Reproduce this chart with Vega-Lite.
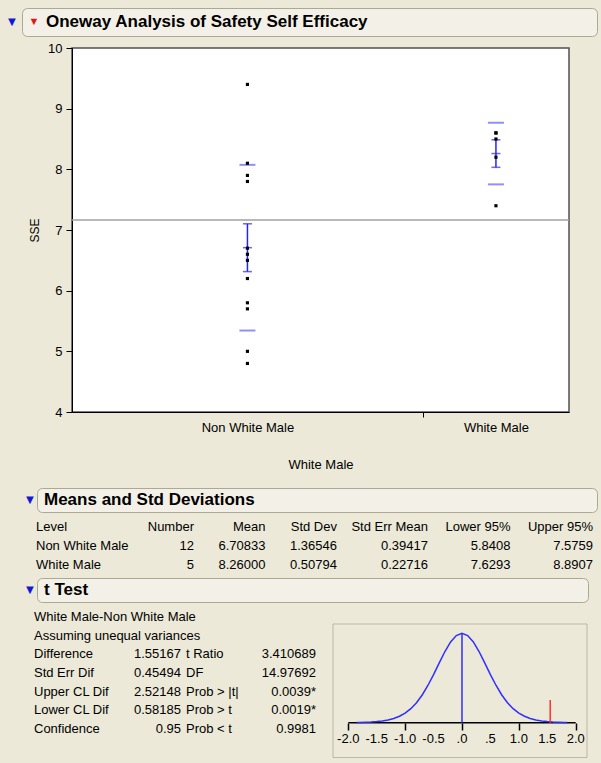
{
  "$schema": "https://vega.github.io/schema/vega-lite/v6.json",
  "background": "#ECE9D8",
  "padding": 0,
  "autosize": {"type": "pad"},
  "spacing": 0,
  "bounds": "full",
  "config": {
    "view": {"stroke": null},
    "font": "Liberation Sans",
    "text": {"font": "Liberation Sans", "fontSize": 13, "color": "#000000"},
    "axis": {"labelFont": "Liberation Sans", "titleFont": "Liberation Sans", "labelColor": "#000000", "titleColor": "#000000", "grid": false}
  },
  "datasets": {
    "blank": [{"s": 0}],
    "obs": [
      {"group": "Non White Male", "sse": 9.4}, {"group": "Non White Male", "sse": 8.1}, {"group": "Non White Male", "sse": 7.9},
      {"group": "Non White Male", "sse": 7.8}, {"group": "Non White Male", "sse": 6.7}, {"group": "Non White Male", "sse": 6.6},
      {"group": "Non White Male", "sse": 6.5}, {"group": "Non White Male", "sse": 6.2}, {"group": "Non White Male", "sse": 5.8},
      {"group": "Non White Male", "sse": 5.7}, {"group": "Non White Male", "sse": 5.0}, {"group": "Non White Male", "sse": 4.8},
      {"group": "White Male", "sse": 8.6}, {"group": "White Male", "sse": 8.6}, {"group": "White Male", "sse": 8.5},
      {"group": "White Male", "sse": 8.2}, {"group": "White Male", "sse": 7.4}
    ],
    "grp": [
      {"group": "Non White Male", "n": 12, "mean": 6.70833, "sd": 1.36546, "se": 0.39417, "mean_minus_sd": 5.34287, "mean_plus_sd": 8.07379, "mean_minus_se": 6.31416, "mean_plus_se": 7.1025},
      {"group": "White Male", "n": 5, "mean": 8.26, "sd": 0.50794, "se": 0.22716, "mean_minus_sd": 7.75206, "mean_plus_sd": 8.76794, "mean_minus_se": 8.03284, "mean_plus_se": 8.48716}
    ],
    "grand": [{"grand_mean": 7.16471}],
    "tbl": [
      {"row": 0, "col": "Level", "txt": "Level"}, {"row": 0, "col": "Number", "txt": "Number"}, {"row": 0, "col": "Mean", "txt": "Mean"},
      {"row": 0, "col": "Std Dev", "txt": "Std Dev"}, {"row": 0, "col": "Std Err Mean", "txt": "Std Err Mean"},
      {"row": 0, "col": "Lower 95%", "txt": "Lower 95%"}, {"row": 0, "col": "Upper 95%", "txt": "Upper 95%"},
      {"row": 1, "col": "Level", "txt": "Non White Male"}, {"row": 1, "col": "Number", "txt": "12"}, {"row": 1, "col": "Mean", "txt": "6.70833"},
      {"row": 1, "col": "Std Dev", "txt": "1.36546"}, {"row": 1, "col": "Std Err Mean", "txt": "0.39417"},
      {"row": 1, "col": "Lower 95%", "txt": "5.8408"}, {"row": 1, "col": "Upper 95%", "txt": "7.5759"},
      {"row": 2, "col": "Level", "txt": "White Male"}, {"row": 2, "col": "Number", "txt": "5"}, {"row": 2, "col": "Mean", "txt": "8.26000"},
      {"row": 2, "col": "Std Dev", "txt": "0.50794"}, {"row": 2, "col": "Std Err Mean", "txt": "0.22716"},
      {"row": 2, "col": "Lower 95%", "txt": "7.6293"}, {"row": 2, "col": "Upper 95%", "txt": "8.8907"}
    ],
    "tt": [
      {"g": 1, "row": 0, "part": "label", "txt": "White Male-Non White Male"},
      {"g": 1, "row": 1, "part": "label", "txt": "Assuming unequal variances"},
      {"g": 1, "row": 2, "part": "label", "txt": "Difference"}, {"g": 1, "row": 2, "part": "value", "txt": "1.55167"},
      {"g": 1, "row": 3, "part": "label", "txt": "Std Err Dif"}, {"g": 1, "row": 3, "part": "value", "txt": "0.45494"},
      {"g": 1, "row": 4, "part": "label", "txt": "Upper CL Dif"}, {"g": 1, "row": 4, "part": "value", "txt": "2.52148"},
      {"g": 1, "row": 5, "part": "label", "txt": "Lower CL Dif"}, {"g": 1, "row": 5, "part": "value", "txt": "0.58185"},
      {"g": 1, "row": 6, "part": "label", "txt": "Confidence"}, {"g": 1, "row": 6, "part": "value", "txt": "0.95"},
      {"g": 2, "row": 2, "part": "label", "txt": "t Ratio"}, {"g": 2, "row": 2, "part": "value", "txt": "3.410689"},
      {"g": 2, "row": 3, "part": "label", "txt": "DF"}, {"g": 2, "row": 3, "part": "value", "txt": "14.97692"},
      {"g": 2, "row": 4, "part": "label", "txt": "Prob > |t|"}, {"g": 2, "row": 4, "part": "value", "txt": "0.0039*"},
      {"g": 2, "row": 5, "part": "label", "txt": "Prob > t"}, {"g": 2, "row": 5, "part": "value", "txt": "0.0019*"},
      {"g": 2, "row": 6, "part": "label", "txt": "Prob < t"}, {"g": 2, "row": 6, "part": "value", "txt": "0.9981"}
    ],
    "tlab": [
      {"v": -2, "lab": "-2.0"}, {"v": -1.5, "lab": "-1.5"}, {"v": -1, "lab": "-1.0"}, {"v": -0.5, "lab": "-0.5"},
      {"v": 0, "lab": ".0"}, {"v": 0.5, "lab": ".5"}, {"v": 1, "lab": "1.0"}, {"v": 1.5, "lab": "1.5"}, {"v": 2, "lab": "2.0"}
    ],
    "dens": [
      {"t": -1.85, "d": 0.002}, {"t": -1.8, "d": 0.003}, {"t": -1.7, "d": 0.005}, {"t": -1.6, "d": 0.008},
      {"t": -1.5, "d": 0.013}, {"t": -1.4, "d": 0.02}, {"t": -1.3, "d": 0.031}, {"t": -1.2, "d": 0.047},
      {"t": -1.1, "d": 0.072}, {"t": -1.0, "d": 0.107}, {"t": -0.9, "d": 0.157}, {"t": -0.8, "d": 0.223},
      {"t": -0.7, "d": 0.31}, {"t": -0.6, "d": 0.416}, {"t": -0.5, "d": 0.538}, {"t": -0.4, "d": 0.669},
      {"t": -0.3, "d": 0.796}, {"t": -0.2, "d": 0.903}, {"t": -0.1, "d": 0.975}, {"t": 0.0, "d": 1.0},
      {"t": 0.1, "d": 0.975}, {"t": 0.2, "d": 0.903}, {"t": 0.3, "d": 0.796}, {"t": 0.4, "d": 0.669},
      {"t": 0.5, "d": 0.538}, {"t": 0.6, "d": 0.416}, {"t": 0.7, "d": 0.31}, {"t": 0.8, "d": 0.223},
      {"t": 0.9, "d": 0.157}, {"t": 1.0, "d": 0.107}, {"t": 1.1, "d": 0.072}, {"t": 1.2, "d": 0.047},
      {"t": 1.3, "d": 0.031}, {"t": 1.4, "d": 0.02}, {"t": 1.5, "d": 0.013}, {"t": 1.6, "d": 0.008},
      {"t": 1.7, "d": 0.005}, {"t": 1.8, "d": 0.003}, {"t": 1.85, "d": 0.002}
    ]
  },
  "vconcat": [
    {"width": 601, "height": 7, "data": {"name": "blank"}, "mark": {"type": "point", "opacity": 0}, "encoding": {}},
    {
      "hconcat": [
        {"width": 22, "height": 33, "data": {"name": "blank"}, "mark": {"type": "point", "opacity": 0}, "encoding": {}},
        {
          "width": 575, "height": 28,
          "view": {"fill": "#F3F1E7", "stroke": "#ABA893", "cornerRadius": 5, "strokeWidth": 1},
          "data": {"values": [{"k": "h", "title": "Oneway Analysis of Safety Self Efficacy"}]},
          "encoding": {"x": {"field": "k", "type": "nominal", "scale": {"type": "point", "padding": 0, "align": 0}, "axis": null}},
          "layer": [
            {"mark": {"type": "text", "text": "▼", "color": "#1515d5", "fontSize": 13, "dx": -10}},
            {"mark": {"type": "text", "text": "▼", "color": "#e01818", "fontSize": 11, "dx": 12}},
            {"mark": {"type": "text", "align": "left", "dx": 24, "fontSize": 17, "fontWeight": "bold"}, "encoding": {"text": {"field": "title"}}}
          ]
        }
      ],
      "spacing": 0, "bounds": "flush"
    },
    {
      "hconcat": [
        {"width": 72, "height": 439, "data": {"name": "blank"}, "mark": {"type": "point", "opacity": 0}, "encoding": {}},
        {
          "width": 497, "height": 364,
          "view": {"fill": "#ffffff", "stroke": "#505050", "strokeWidth": 1.5},
          "layer": [
            {
              "data": {"name": "grand"},
              "mark": {"type": "rule", "color": "#a0a0a0", "strokeWidth": 1.5},
              "encoding": {
                "y": {"field": "grand_mean", "type": "quantitative", "title": "SSE",
                  "scale": {"domain": [4, 10], "nice": false, "zero": false},
                  "axis": {"values": [4, 5, 6, 7, 8, 9, 10], "format": "d", "titleFontSize": 12, "titleFontWeight": "normal", "titlePadding": 6,
                    "labelFontSize": 13, "tickSize": 6, "labelPadding": 4, "domainColor": "#000000", "tickColor": "#000000"}}
              }
            },
            {
              "data": {"name": "grp"},
              "mark": {"type": "tick", "orient": "horizontal", "size": 16, "thickness": 2, "color": "#5f5fff"},
              "encoding": {
                "x": {"field": "group", "type": "nominal", "title": "White Male",
                  "scale": {"type": "point", "domain": ["Non White Male", "White Male"], "padding": 0.5, "align": 0.706},
                  "axis": {"labelAngle": 0, "labelFontSize": 13, "titleFontSize": 13, "titleFontWeight": "normal", "titlePadding": 24,
                    "ticks": true, "tickSize": 5, "tickColor": "#000000", "tickOffset": -73.1, "labelOffset": 73.1,
                    "tickOpacity": {"condition": {"test": "datum.value === 'Non White Male'", "value": 0}, "value": 1},
                    "labelPadding": 4, "domainColor": "#000000"}},
                "y": {"field": "mean_plus_sd", "type": "quantitative", "title": "SSE", "scale": {"domain": [4, 10], "nice": false, "zero": false}}
              }
            },
            {
              "data": {"name": "grp"},
              "mark": {"type": "tick", "orient": "horizontal", "size": 16, "thickness": 2, "color": "#5f5fff"},
              "encoding": {
                "x": {"field": "group", "type": "nominal", "title": "White Male", "scale": {"type": "point", "domain": ["Non White Male", "White Male"], "padding": 0.5, "align": 0.706}},
                "y": {"field": "mean_minus_sd", "type": "quantitative", "title": "SSE", "scale": {"domain": [4, 10], "nice": false, "zero": false}}
              }
            },
            {
              "data": {"name": "grp"},
              "mark": {"type": "rule", "color": "#2323ff", "strokeWidth": 1.5},
              "encoding": {
                "x": {"field": "group", "type": "nominal", "title": "White Male", "scale": {"type": "point", "domain": ["Non White Male", "White Male"], "padding": 0.5, "align": 0.706}},
                "y": {"field": "mean_minus_se", "type": "quantitative", "title": "SSE", "scale": {"domain": [4, 10], "nice": false, "zero": false}},
                "y2": {"field": "mean_plus_se"}
              }
            },
            {
              "data": {"name": "grp"},
              "mark": {"type": "tick", "orient": "horizontal", "size": 9, "thickness": 1.5, "color": "#2323ff"},
              "encoding": {
                "x": {"field": "group", "type": "nominal", "title": "White Male", "scale": {"type": "point", "domain": ["Non White Male", "White Male"], "padding": 0.5, "align": 0.706}},
                "y": {"field": "mean_minus_se", "type": "quantitative", "title": "SSE", "scale": {"domain": [4, 10], "nice": false, "zero": false}}
              }
            },
            {
              "data": {"name": "grp"},
              "mark": {"type": "tick", "orient": "horizontal", "size": 9, "thickness": 1.5, "color": "#2323ff"},
              "encoding": {
                "x": {"field": "group", "type": "nominal", "title": "White Male", "scale": {"type": "point", "domain": ["Non White Male", "White Male"], "padding": 0.5, "align": 0.706}},
                "y": {"field": "mean_plus_se", "type": "quantitative", "title": "SSE", "scale": {"domain": [4, 10], "nice": false, "zero": false}}
              }
            },
            {
              "data": {"name": "grp"},
              "mark": {"type": "tick", "orient": "horizontal", "size": 9, "thickness": 1.5, "color": "#2323ff"},
              "encoding": {
                "x": {"field": "group", "type": "nominal", "title": "White Male", "scale": {"type": "point", "domain": ["Non White Male", "White Male"], "padding": 0.5, "align": 0.706}},
                "y": {"field": "mean", "type": "quantitative", "title": "SSE", "scale": {"domain": [4, 10], "nice": false, "zero": false}}
              }
            },
            {
              "data": {"name": "obs"},
              "mark": {"type": "point", "shape": "square", "filled": true, "color": "#000000", "size": 10, "opacity": 1},
              "encoding": {
                "x": {"field": "group", "type": "nominal", "title": "White Male", "scale": {"type": "point", "domain": ["Non White Male", "White Male"], "padding": 0.5, "align": 0.706}},
                "y": {"field": "sse", "type": "quantitative", "title": "SSE", "scale": {"domain": [4, 10], "nice": false, "zero": false}}
              }
            }
          ]
        }
      ],
      "spacing": 0, "bounds": "flush"
    },
    {
      "hconcat": [
        {"width": 37, "height": 29, "data": {"name": "blank"}, "mark": {"type": "point", "opacity": 0}, "encoding": {}},
        {
          "width": 560, "height": 24,
          "view": {"fill": "#F3F1E7", "stroke": "#ABA893", "cornerRadius": 5, "strokeWidth": 1},
          "data": {"values": [{"k": "h", "title": "Means and Std Deviations"}]},
          "encoding": {"x": {"field": "k", "type": "nominal", "scale": {"type": "point", "padding": 0, "align": 0}, "axis": null}},
          "layer": [
            {"mark": {"type": "text", "text": "▼", "color": "#1515d5", "fontSize": 13, "dx": -7}},
            {"mark": {"type": "text", "align": "left", "dx": 7, "fontSize": 17, "fontWeight": "bold"}, "encoding": {"text": {"field": "title"}}}
          ]
        }
      ],
      "spacing": 0, "bounds": "flush"
    },
    {
      "hconcat": [
        {"width": 36, "height": 60, "data": {"name": "blank"}, "mark": {"type": "point", "opacity": 0}, "encoding": {}},
        {
          "width": 158, "height": 57,
          "data": {"name": "tbl"},
          "transform": [{"filter": {"field": "col", "oneOf": ["Level"]}}],
          "mark": {"type": "text", "align": "left", "fontSize": 13},
          "encoding": {
            "x": {"field": "col", "type": "nominal", "scale": {"type": "point", "padding": 0, "align": 0}, "axis": null},
            "y": {"field": "row", "type": "ordinal", "scale": {"type": "point", "padding": 0.5, "domain": [0, 1, 2]}, "axis": null},
            "text": {"field": "txt"}
          }
        },
        {
          "width": 143, "height": 57,
          "data": {"name": "tbl"},
          "transform": [{"filter": {"field": "col", "oneOf": ["Number", "Mean", "Std Dev"]}}],
          "mark": {"type": "text", "align": "right", "fontSize": 13},
          "encoding": {
            "x": {"field": "col", "type": "nominal", "scale": {"type": "point", "padding": 0, "domain": ["Number", "Mean", "Std Dev"]}, "axis": null},
            "y": {"field": "row", "type": "ordinal", "scale": {"type": "point", "padding": 0.5, "domain": [0, 1, 2]}, "axis": null},
            "text": {"field": "txt"}
          }
        },
        {"width": 91, "height": 57, "data": {"name": "blank"}, "mark": {"type": "point", "opacity": 0}, "encoding": {}},
        {
          "width": 165, "height": 57,
          "data": {"name": "tbl"},
          "transform": [{"filter": {"field": "col", "oneOf": ["Std Err Mean", "Lower 95%", "Upper 95%"]}}],
          "mark": {"type": "text", "align": "right", "fontSize": 13},
          "encoding": {
            "x": {"field": "col", "type": "nominal", "scale": {"type": "point", "padding": 0, "domain": ["Std Err Mean", "Lower 95%", "Upper 95%"]}, "axis": null},
            "y": {"field": "row", "type": "ordinal", "scale": {"type": "point", "padding": 0.5, "domain": [0, 1, 2]}, "axis": null},
            "text": {"field": "txt"}
          }
        }
      ],
      "spacing": 0, "bounds": "flush"
    },
    {
      "hconcat": [
        {"width": 37, "height": 30, "data": {"name": "blank"}, "mark": {"type": "point", "opacity": 0}, "encoding": {}},
        {
          "width": 551, "height": 24,
          "view": {"fill": "#F3F1E7", "stroke": "#ABA893", "cornerRadius": 5, "strokeWidth": 1},
          "data": {"values": [{"k": "h", "title": "t Test"}]},
          "encoding": {"x": {"field": "k", "type": "nominal", "scale": {"type": "point", "padding": 0, "align": 0}, "axis": null}},
          "layer": [
            {"mark": {"type": "text", "text": "▼", "color": "#1515d5", "fontSize": 13, "dx": -7}},
            {"mark": {"type": "text", "align": "left", "dx": 7, "fontSize": 17, "fontWeight": "bold"}, "encoding": {"text": {"field": "title"}}}
          ]
        }
      ],
      "spacing": 0, "bounds": "flush"
    },
    {
      "hconcat": [
        {"width": 34, "height": 155, "data": {"name": "blank"}, "mark": {"type": "point", "opacity": 0}, "encoding": {}},
        {
          "width": 147, "height": 130,
          "data": {"name": "tt"},
          "transform": [{"filter": "datum.g == 1"}],
          "encoding": {
            "x": {"field": "part", "type": "nominal", "scale": {"type": "point", "padding": 0, "domain": ["label", "value"]}, "axis": null},
            "y": {"field": "row", "type": "ordinal", "scale": {"type": "point", "padding": 0.5, "domain": [0, 1, 2, 3, 4, 5, 6]}, "axis": null},
            "text": {"field": "txt"}
          },
          "layer": [
            {"transform": [{"filter": "datum.part == 'label'"}], "mark": {"type": "text", "align": "left", "fontSize": 13}},
            {"transform": [{"filter": "datum.part == 'value'"}], "mark": {"type": "text", "align": "right", "fontSize": 13}}
          ]
        },
        {"width": 5, "height": 130, "data": {"name": "blank"}, "mark": {"type": "point", "opacity": 0}, "encoding": {}},
        {
          "width": 130, "height": 130,
          "data": {"name": "tt"},
          "transform": [{"filter": "datum.g == 2"}],
          "encoding": {
            "x": {"field": "part", "type": "nominal", "scale": {"type": "point", "padding": 0, "domain": ["label", "value"]}, "axis": null},
            "y": {"field": "row", "type": "ordinal", "scale": {"type": "point", "padding": 0.5, "domain": [0, 1, 2, 3, 4, 5, 6]}, "axis": null},
            "text": {"field": "txt"}
          },
          "layer": [
            {"transform": [{"filter": "datum.part == 'label'"}], "mark": {"type": "text", "align": "left", "fontSize": 13}},
            {"transform": [{"filter": "datum.part == 'value'"}], "mark": {"type": "text", "align": "right", "fontSize": 13}}
          ]
        },
        {"width": 17, "height": 130, "data": {"name": "blank"}, "mark": {"type": "point", "opacity": 0}, "encoding": {}},
        {
          "width": 254, "height": 150,
          "layer": [
            {
              "data": {"name": "blank"},
              "mark": {"type": "rect", "fillOpacity": 0, "stroke": "#BAB7A5", "strokeWidth": 1},
              "encoding": {
                "x": {"datum": -2.269, "type": "quantitative", "title": null, "scale": {"domain": [-2.269, 2.199], "nice": false, "zero": false}},
                "x2": {"datum": 2.199},
                "y": {"datum": -0.39, "type": "quantitative", "title": null, "scale": {"domain": [-0.395, 1.283], "nice": false, "zero": false}, "axis": null},
                "y2": {"datum": 1.104}
              }
            },
            {
              "data": {"name": "blank"},
              "mark": {"type": "rule", "color": "#000000", "strokeWidth": 1.5},
              "encoding": {
                "x": {"datum": -2, "type": "quantitative", "title": null, "scale": {"domain": [-2.269, 2.199], "nice": false, "zero": false}},
                "x2": {"datum": 2},
                "y": {"datum": 0, "type": "quantitative", "title": null, "scale": {"domain": [-0.395, 1.283], "nice": false, "zero": false}, "axis": null}
              }
            },
            {
              "data": {"name": "dens"},
              "mark": {"type": "line", "color": "#2f2fff", "strokeWidth": 1.5},
              "encoding": {
                "x": {"field": "t", "type": "quantitative", "title": null, "scale": {"domain": [-2.269, 2.199], "nice": false, "zero": false},
                  "axis": {"values": [-2, -1.5, -1, -0.5, 0, 0.5, 1, 1.5, 2], "labels": false,
                    "offset": -35, "domain": false, "tickSize": 7, "tickWidth": 1.5, "tickColor": "#000000"}},
                "y": {"field": "d", "type": "quantitative", "title": null, "scale": {"domain": [-0.395, 1.283], "nice": false, "zero": false}, "axis": null}
              }
            },
            {
              "data": {"name": "tlab"},
              "mark": {"type": "text", "fontSize": 13, "baseline": "middle", "align": "center"},
              "encoding": {
                "x": {"field": "v", "type": "quantitative", "title": null, "scale": {"domain": [-2.269, 2.199], "nice": false, "zero": false}},
                "y": {"datum": -0.18, "type": "quantitative", "title": null, "scale": {"domain": [-0.395, 1.283], "nice": false, "zero": false}, "axis": null},
                "text": {"field": "lab"}
              }
            },
            {
              "data": {"name": "blank"},
              "mark": {"type": "rule", "color": "#2f2fff", "strokeWidth": 1.5},
              "encoding": {
                "x": {"datum": 0, "type": "quantitative", "title": null, "scale": {"domain": [-2.269, 2.199], "nice": false, "zero": false}},
                "y": {"datum": 0, "type": "quantitative", "title": null, "scale": {"domain": [-0.395, 1.283], "nice": false, "zero": false}, "axis": null},
                "y2": {"datum": 1}
              }
            },
            {
              "data": {"name": "blank"},
              "mark": {"type": "rule", "color": "#ff3030", "strokeWidth": 1.5},
              "encoding": {
                "x": {"datum": 1.55167, "type": "quantitative", "title": null, "scale": {"domain": [-2.269, 2.199], "nice": false, "zero": false}},
                "y": {"datum": 0, "type": "quantitative", "title": null, "scale": {"domain": [-0.395, 1.283], "nice": false, "zero": false}, "axis": null},
                "y2": {"datum": 0.254}
              }
            }
          ]
        }
      ],
      "spacing": 0, "bounds": "flush"
    }
  ]
}
